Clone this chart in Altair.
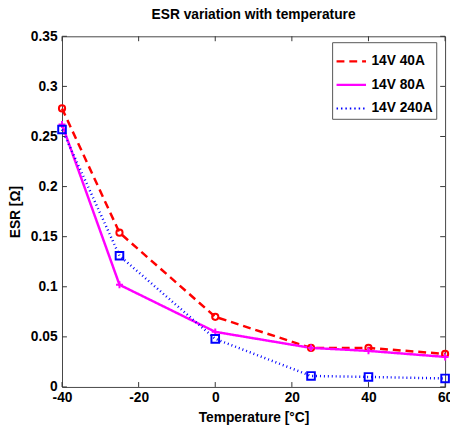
import altair as alt
import pandas as pd

temps = [-40, -25, 0, 25, 40, 60]
esr_40A = [0.278, 0.154, 0.070, 0.039, 0.039, 0.033]
esr_80A = [0.262, 0.102, 0.055, 0.039, 0.036, 0.030]
esr_240A = [0.257, 0.131, 0.048, 0.011, 0.010, 0.0085]
series_names = ["14V 40A", "14V 80A", "14V 240A"]
x_ticks = [-40, -20, 0, 20, 40, 60]
y_ticks = [0, 0.05, 0.1, 0.15, 0.2, 0.25, 0.3, 0.35]

rows = []
for name, vals in zip(series_names, [esr_40A, esr_80A, esr_240A]):
    for t, v in zip(temps, vals):
        rows.append({"series": name, "marker": name, "temp": t, "esr": v})
df = pd.DataFrame(rows)

W, H = 390, 357
FONT = "Liberation Sans"
colors = ["#FF0000", "#FF00FF", "#0000FF"]

xs = alt.Scale(domain=[-40, 60], nice=False, zero=False)
ys = alt.Scale(domain=[0, 0.35], nice=False)

x_enc = alt.X("temp:Q", scale=xs, axis=alt.Axis(
    values=x_ticks, ticks=False, grid=False, domain=False, labelPadding=4,
    labelFlush=False, labelOverlap=False, labelExpr="datum.value",
    title="Temperature [°C]", titlePadding=6))
y_enc = alt.Y("esr:Q", scale=ys, axis=alt.Axis(
    values=y_ticks, ticks=False, grid=False, domain=False, format="~g",
    labelFlush=False, labelOverlap=False,
    labelPadding=5, title="ESR [Ω]", titlePadding=8))

dash_sig = ("datum.value == '14V 40A' ? [8, 5] : "
            "(datum.value == '14V 240A' ? [1.5, 3] : [1, 0])")

leg = alt.Legend(title=None, orient="none", legendX=275, legendY=6,
                 symbolType="stroke",
                 symbolStrokeWidth=2.2,
                 symbolDash=alt.ExprRef(expr=dash_sig),
                 symbolSize=900, labelFont=FONT, labelFontSize=14,
                 labelFontWeight="bold", labelColor="black",
                 strokeColor="#555555", fillColor="white",
                 padding=3, rowPadding=-12, labelOffset=4)

color = alt.Color("series:N", scale=alt.Scale(domain=series_names, range=colors), legend=leg)

lines = alt.Chart(df).mark_line().encode(
    x=x_enc, y=y_enc, color=color,
    strokeDash=alt.StrokeDash("series:N", scale=alt.Scale(domain=series_names,
                              range=[[8, 5], [1, 0], [1, 3]]), legend=None),
    strokeWidth=alt.StrokeWidth("series:N", scale=alt.Scale(domain=series_names,
                                range=[2.5, 2.5, 1.2]), legend=None),
)

points = alt.Chart(df).mark_point(filled=False, strokeWidth=2, opacity=1).encode(
    x="temp:Q", y="esr:Q",
    color=alt.Color("marker:N", scale=alt.Scale(domain=series_names, range=colors), legend=None),
    shape=alt.Shape("marker:N", scale=alt.Scale(domain=series_names,
                    range=["circle", "M-1,0H1M0,-1V1", "square"]), legend=None),
    size=alt.Size("marker:N", scale=alt.Scale(domain=series_names, range=[40, 60, 40]), legend=None),
)

xt = pd.DataFrame({"t": x_ticks})
yt = pd.DataFrame({"v": y_ticks})
tick_col = "#333333"
xb = alt.Chart(xt).mark_rule(color=tick_col, strokeWidth=1).encode(
    x=alt.X("t:Q", scale=xs), y=alt.value(H), y2=alt.value(H - 5))
xtp = alt.Chart(xt).mark_rule(color=tick_col, strokeWidth=1).encode(
    x=alt.X("t:Q", scale=xs), y=alt.value(0), y2=alt.value(5))
yl = alt.Chart(yt).mark_rule(color=tick_col, strokeWidth=1).encode(
    y=alt.Y("v:Q", scale=ys), x=alt.value(0), x2=alt.value(5))
yr = alt.Chart(yt).mark_rule(color=tick_col, strokeWidth=1).encode(
    y=alt.Y("v:Q", scale=ys), x=alt.value(W), x2=alt.value(W - 5))

chart = alt.layer(xb, xtp, yl, yr, lines, points).resolve_scale(
    color="independent", shape="independent", size="independent"
).properties(
    width=W, height=H,
    title=alt.Title("ESR variation with temperature", font=FONT, fontSize=14,
                    fontWeight="bold", color="black", offset=8, anchor="middle"),
    autosize=alt.AutoSizeParams(type="none"),
    padding={"left": 55, "top": 25, "right": 5, "bottom": 40},
).configure_view(stroke="#444444", strokeWidth=1).configure_axis(
    labelFont=FONT, labelFontSize=14, labelFontWeight="bold", labelColor="black",
    titleFont=FONT, titleFontSize=14, titleFontWeight="bold", titleColor="black",
)

chart.save("out.html", embed_options={"renderer": "svg", "actions": False})
